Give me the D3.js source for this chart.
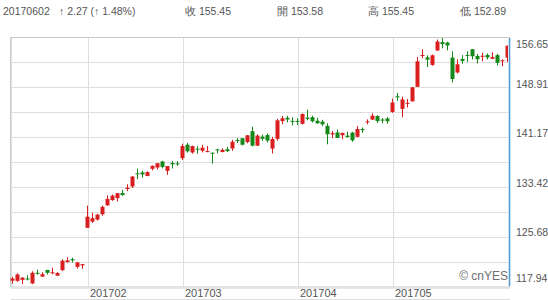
<!DOCTYPE html>
<html>
<head>
<meta charset="utf-8">
<script src="https://cdn.jsdelivr.net/npm/d3@7"></script>
<style>
  body { margin: 0; background: #fff; }
  svg { display: block; font-family: "Liberation Sans", Arial, sans-serif; }
</style>
</head>
<body>
<div id="container"></div>
<script>
const dates = [
  "20170110","20170111","20170112","20170113","20170117","20170118","20170119","20170120","20170123","20170124","20170125","20170126","20170127","20170130","20170131",
  "20170201","20170202","20170203","20170206","20170207","20170208","20170209","20170210","20170213","20170214","20170215","20170216","20170217","20170221","20170222","20170223","20170224","20170227","20170228",
  "20170301","20170302","20170303","20170306","20170307","20170308","20170309","20170310","20170313","20170314","20170315","20170316","20170317","20170320","20170321","20170322","20170323","20170324","20170327","20170328","20170329","20170330","20170331",
  "20170403","20170404","20170405","20170406","20170407","20170410","20170411","20170412","20170413","20170417","20170418","20170419","20170420","20170421","20170424","20170425","20170426","20170427","20170428",
  "20170501","20170502","20170503","20170504","20170505","20170508","20170509","20170510","20170511","20170512","20170515","20170516","20170517","20170518","20170519","20170522","20170523","20170524","20170525","20170526","20170530","20170531",
  "20170601","20170602"
];
const open = [
  118.77,118.74,118.90,119.11,118.34,120.00,119.40,120.45,120.00,119.55,120.42,121.67,122.14,120.93,121.15,
  127.03,127.98,128.31,129.13,130.54,131.35,131.65,132.46,133.08,133.47,135.52,135.67,135.10,136.23,136.43,137.38,135.91,137.14,137.08,
  137.89,140.00,138.78,139.37,139.06,138.95,138.74,139.25,138.85,139.30,139.41,140.72,141.00,140.40,142.11,139.85,141.26,141.50,139.39,140.91,143.68,144.19,143.72,
  143.71,143.25,144.22,144.29,143.73,143.60,142.94,141.60,141.91,141.48,141.41,141.88,141.22,142.44,143.50,143.91,144.47,143.92,144.09,
  145.10,147.54,145.59,146.52,146.76,149.03,153.87,153.63,152.45,154.70,156.01,155.94,153.60,151.27,153.38,154.00,154.90,153.84,153.73,154.00,153.42,153.97,
  153.17,153.58
];
const high = [
  119.38,119.93,119.30,119.62,120.24,120.50,120.09,120.45,120.81,120.10,122.10,122.44,122.35,121.63,121.39,
  130.49,129.39,129.19,130.50,132.09,132.22,132.45,132.94,133.82,135.09,136.27,135.90,135.83,136.75,137.12,137.48,136.66,137.44,137.44,
  140.15,140.28,139.83,139.77,139.98,139.80,138.79,139.36,139.43,139.65,140.75,141.02,141.00,141.50,142.80,141.60,141.58,141.74,141.22,144.04,144.49,144.50,144.27,
  144.12,144.89,145.46,144.52,144.18,143.88,143.35,142.15,142.38,141.88,142.04,142.00,142.92,142.68,143.95,144.90,144.60,144.16,144.30,
  147.20,148.09,147.49,147.14,148.98,153.70,154.88,153.94,154.07,156.42,156.65,156.06,154.57,153.34,153.98,154.58,154.90,154.17,154.35,154.24,154.43,154.17,
  153.33,155.45
];
const low = [
  118.30,118.60,118.21,118.81,118.22,119.71,119.37,119.73,119.77,119.50,120.28,121.60,121.60,120.66,120.62,
  127.01,127.78,128.16,128.90,130.45,131.22,131.12,132.05,132.75,133.25,134.62,134.84,135.10,135.98,136.11,136.30,135.28,136.28,136.70,
  137.60,138.76,138.59,138.60,138.79,138.82,137.05,138.64,138.82,138.84,139.03,140.26,139.89,140.23,139.73,139.76,140.61,140.35,138.62,140.62,143.19,143.50,143.01,
  143.05,143.17,143.81,143.45,143.27,142.90,140.06,141.01,141.05,140.87,141.11,140.45,141.16,141.85,143.18,143.87,143.38,143.31,143.27,
  144.96,146.84,144.27,145.81,146.76,149.03,153.45,152.11,152.31,154.67,155.05,154.72,149.71,151.13,152.63,152.91,153.31,152.67,153.03,153.31,153.33,152.38,
  152.22,152.89
];
const close = [
  119.11,119.75,119.25,119.04,120.00,119.99,119.78,120.00,120.08,119.97,121.88,121.94,121.95,121.63,121.35,
  128.75,128.53,129.08,130.29,131.53,132.04,132.42,132.12,133.29,135.02,135.51,135.35,135.72,136.70,137.11,136.53,136.66,136.93,136.99,
  139.79,138.96,139.78,139.34,139.52,139.00,138.68,139.14,139.20,138.99,140.46,140.69,139.99,141.46,139.84,141.42,140.92,140.64,140.88,143.80,144.12,143.93,143.66,
  143.70,144.77,144.02,143.66,143.34,143.17,141.63,141.80,141.05,141.83,141.20,140.68,142.44,142.27,143.64,144.53,143.68,143.79,143.65,
  146.58,147.51,147.06,146.53,148.96,153.01,153.99,153.26,153.95,156.10,155.70,155.47,150.25,152.54,153.06,153.99,153.80,153.34,153.87,153.61,153.67,152.76,
  153.18,155.45
];
const monthTicks = ["201702", "201703", "201704", "201705"];
const priceTicks = [117.94, 125.68, 133.42, 141.17, 148.91, 156.65];
const header = [
  { text: "20170602", x: 3 },
  { text: "\u2191 2.27 (\u2191 1.48%)", x: 59 },
  { text: "收 155.45", x: 185 },
  { text: "開 153.58", x: 277 },
  { text: "高 155.45", x: 368 },
  { text: "低 152.89", x: 460 }
];

const width = 548, height = 300;
const plot = { left: 10, right: 510, top: 37, bottom: 287 };
const upColor = "#d81e1e", downColor = "#15881a";

const candles = dates.map((d, i) => ({ date: d, o: open[i], h: high[i], l: low[i], c: close[i] }));

const svg = d3.select('#container').append('svg')
              .attr('width', width)
              .attr('height', height);

const x = d3.scaleBand()
            .domain(dates)
            .range([plot.left, plot.right]);

const y = d3.scaleLinear()
            .domain([priceTicks[0], priceTicks[priceTicks.length - 1]])
            .range([plot.bottom - 1, plot.top + 1]);

// header line
svg.append('g')
   .selectAll('text')
   .data(header)
   .enter()
   .append('text')
   .attr('x', d => d.x)
   .attr('y', 15)
   .attr('font-size', 10.5)
   .attr('fill', '#555')
   .text(d => d.text);

// horizontal grid, 10 equal bands
const plotH = plot.bottom - plot.top;
svg.append('g')
   .selectAll('line')
   .data(d3.range(1, 10))
   .enter()
   .append('line')
   .attr('x1', plot.left)
   .attr('x2', plot.right)
   .attr('y1', k => plot.top + k * plotH / 10 + 0.5)
   .attr('y2', k => plot.top + k * plotH / 10 + 0.5)
   .attr('stroke', '#dedede');

// month gridlines + labels
const firstOfMonth = monthTicks.map(m => dates.find(d => d.slice(0, 6) === m));
const monthX = d => Math.round(x(d) + x.bandwidth() / 2) + 0.5;

svg.append('g')
   .selectAll('line')
   .data(firstOfMonth)
   .enter()
   .append('line')
   .attr('x1', monthX)
   .attr('x2', monthX)
   .attr('y1', plot.top)
   .attr('y2', plot.bottom)
   .attr('stroke', '#dedede');

svg.append('g')
   .selectAll('text')
   .data(monthTicks)
   .enter()
   .append('text')
   .attr('x', (m, i) => monthX(firstOfMonth[i]) + 1.5)
   .attr('y', 297)
   .attr('font-size', 11)
   .attr('fill', '#555')
   .text(m => m);

// price labels on the right
svg.append('g')
   .selectAll('text')
   .data(priceTicks)
   .enter()
   .append('text')
   .attr('x', 516)
   .attr('y', v => Math.max(48, Math.min(282, y(v))))
   .attr('font-size', 10.5)
   .attr('fill', '#555')
   .text(v => v.toFixed(2));

// frame
svg.append('rect')
   .attr('x', plot.left + 0.5)
   .attr('y', plot.top + 0.5)
   .attr('width', plot.right - plot.left - 1)
   .attr('height', plotH - 0.5)
   .attr('fill', 'none')
   .attr('stroke', '#c9c9c9');
svg.append('line')
   .attr('x1', plot.left + 1.5).attr('x2', plot.left + 1.5)
   .attr('y1', plot.top + 1).attr('y2', plot.bottom)
   .attr('stroke', '#e2e2e2');
svg.append('line')
   .attr('x1', plot.left + 1).attr('x2', plot.right)
   .attr('y1', plot.bottom + 1.5).attr('y2', plot.bottom + 1.5)
   .attr('stroke', '#e6e6e6');

// bottom separator
svg.append('line')
   .attr('x1', plot.left + 1).attr('x2', plot.right)
   .attr('y1', 299.5).attr('y2', 299.5)
   .attr('stroke', '#dcdcdc');

// watermark
svg.append('text')
   .attr('x', 508)
   .attr('y', 280)
   .attr('text-anchor', 'end')
   .attr('font-size', 12)
   .attr('fill', '#6f6f6f')
   .text('© cnYES');

// candles
const candle = svg.append('g')
                  .selectAll('g')
                  .data(candles)
                  .enter()
                  .append('g')
                  .attr('fill', d => d.c >= d.o ? upColor : downColor);

candle.append('rect')
      .attr('x', d => x(d.date) + 2)
      .attr('width', 1)
      .attr('y', d => y(d.h))
      .attr('height', d => Math.max(1, y(d.l) - y(d.h)));

candle.append('rect')
      .attr('x', d => x(d.date) + 0.5)
      .attr('width', 4)
      .attr('y', d => y(Math.max(d.o, d.c)))
      .attr('height', d => Math.max(1, Math.abs(y(d.o) - y(d.c))));

// crosshair on the last bar
svg.append('line')
   .attr('x1', 509.5).attr('x2', 509.5)
   .attr('y1', plot.top + 1).attr('y2', plot.bottom - 1)
   .attr('stroke', '#cfe4f4')
   .attr('stroke-width', 3);
svg.append('line')
   .attr('x1', 509.5).attr('x2', 509.5)
   .attr('y1', plot.top + 1).attr('y2', plot.bottom - 1)
   .attr('stroke', '#4f97d1');
</script>
</body>
</html>
